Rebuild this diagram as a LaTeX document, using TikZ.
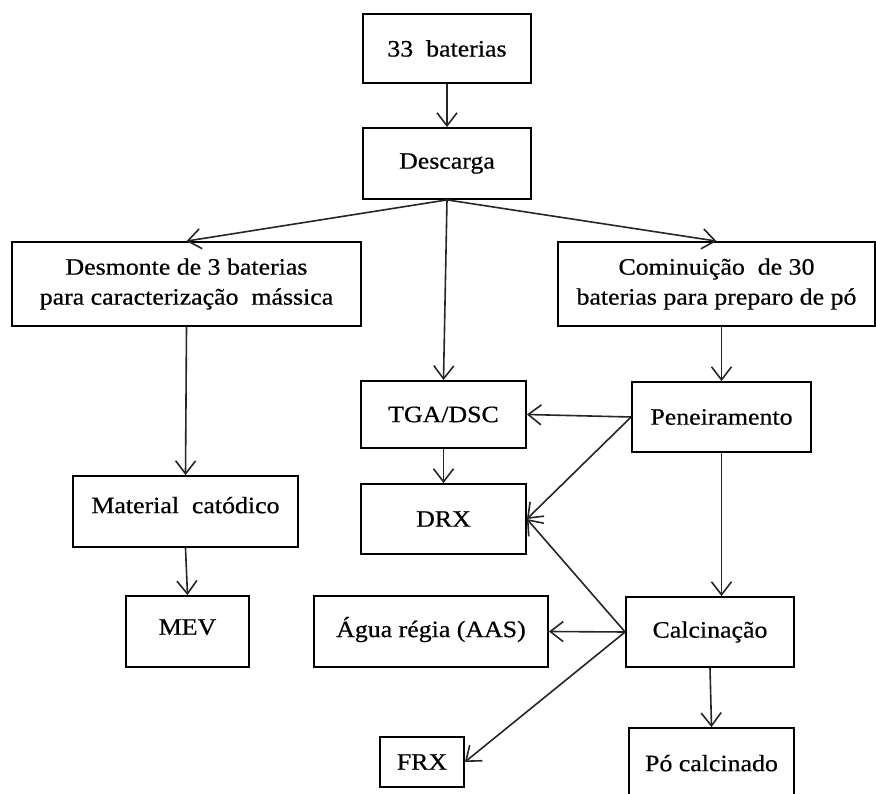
\documentclass[tikz,border=0pt]{standalone}
\usepackage{fontspec}
\setmainfont{Liberation Serif}[FakeStretch=1.1,FakeBold=0.6]
\usetikzlibrary{arrows.meta}
\begin{document}
\begin{tikzpicture}[x=1pt,y=-1pt,
  box/.style={draw, line width=1.8pt, rectangle, inner sep=0pt,
    font=\fontsize{23.5}{30}\selectfont},
  conn/.style={line width=1.6pt, draw=black!85,
    -{Straight Barb[length=13pt,width=20pt,line width=1.6pt]}}]
\useasboundingbox (0,0) rectangle (876,794);
\fill[white] (0,0) rectangle (876,794);
% boxes
\node[box, minimum width=168pt, minimum height=69pt] (b33) at (447,48.5) {33\ \ baterias\hspace{14pt}};
\node[box, minimum width=168pt, minimum height=71pt] (desc) at (447,163.5) {Descarga\hspace{8pt}};
\node[box, align=center, minimum width=349pt, minimum height=84pt] (desm) at (186.5,284) {Desmonte de 3 baterias\\para caracterização\ \ mássica};
\node[box, align=center, minimum width=317pt, minimum height=84pt] (comi) at (716.5,284) {Cominuição\ \ de 30\\baterias para preparo de pó};
\node[box, minimum width=165pt, minimum height=67pt] (tga) at (443.5,414.5) {TGA/DSC};
\node[box, minimum width=179pt, minimum height=70pt] (pene) at (721.5,417) {Peneiramento};
\node[box, minimum width=165pt, minimum height=70pt] (drx) at (443.5,519) {DRX\hspace{33pt}};
\node[box, minimum width=225pt, minimum height=71pt] (mat) at (185.5,511.5) {\raisebox{13pt}{Material\ \ catódico}};
\node[box, minimum width=123pt, minimum height=71pt] (mev) at (187.5,631.5) {\raisebox{9pt}{MEV}\hspace{8pt}};
\node[box, minimum width=234pt, minimum height=71pt] (agua) at (431,631.5) {\raisebox{9pt}{Água régia (AAS)}\hspace{8pt}};
\node[box, minimum width=168pt, minimum height=70pt] (calc) at (710,632) {Calcinação\hspace{10pt}};
\node[box, minimum width=84pt, minimum height=50pt] (frx) at (422,762) {FRX};
\node[box, minimum width=165pt, minimum height=84pt] (po) at (711.5,770) {\raisebox{14pt}{Pó calcinado}};
% connectors
\draw[conn] (b33.south) -- (desc.north);
\draw[conn] (desc.south) -- (desm.north);
\draw[conn] (desc.south) -- (comi.north);
\draw[conn] (desc.south) -- (tga.north);
\draw[conn] (desm.south) -- (mat.north);
\draw[conn] (mat.south) -- (mev.north);
\draw[conn] (pene.north |- comi.south) -- (pene.north);
\draw[conn] (pene.west) -- (tga.east);
\draw[conn] (pene.west) -- (drx.east);
\draw[conn] (tga.south) -- (drx.north);
\draw[conn] (pene.south) -- (pene.south |- calc.north);
\draw[conn] (calc.west) -- (drx.east);
\draw[conn] (calc.west) -- (agua.east);
\draw[conn] (calc.west) -- (frx.east);
\draw[conn] (calc.south) -- (po.north);
\end{tikzpicture}
\end{document}
